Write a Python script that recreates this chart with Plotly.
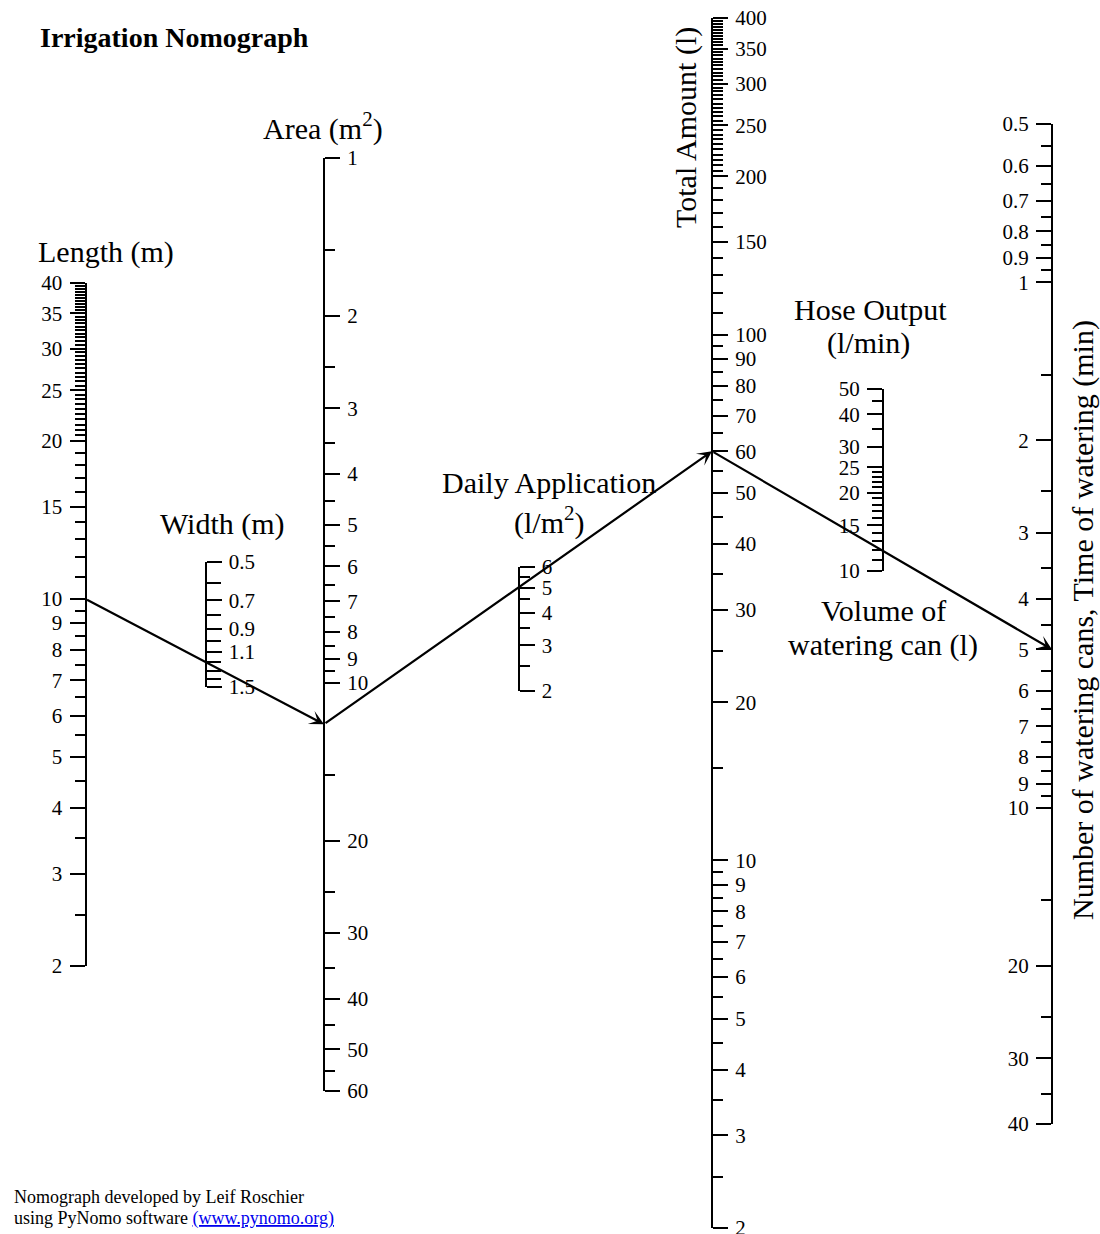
import math
import plotly.graph_objects as go

W, H = 1100, 1234

# ------------------------------------------------------------------ data
LENGTH_LABELED = [2, 3, 4, 5, 6, 7, 8, 9, 10, 15, 20, 25, 30, 35, 40]
LENGTH_MINOR = [2.5, 3.5, 4.5, 5.5, 6.5, 7.5, 8.5, 9.5, 11, 12, 13, 14, 16, 17, 18, 19,
                20.5, 21, 21.5, 22, 22.5, 23, 23.5, 24, 24.5, 25.5, 26, 26.5, 27, 27.5,
                28, 28.5, 29, 29.5, 30.5, 31, 31.5, 32, 32.5, 33, 33.5, 34, 34.5, 35.5,
                36, 36.5, 37, 37.5, 38, 38.5, 39, 39.5]
WIDTH_LABELED = [0.5, 0.7, 0.9, 1.1, 1.5]
WIDTH_MINOR = [0.6, 0.8, 1.0, 1.2, 1.3, 1.4]
AREA_LABELED = [1, 2, 3, 4, 5, 6, 7, 8, 9, 10, 20, 30, 40, 50, 60]
AREA_MINOR = [1.5, 2.5, 3.5, 4.5, 5.5, 6.5, 7.5, 8.5, 9.5, 15, 25, 35, 45, 55]
DAILY_LABELED = [2, 3, 4, 5, 6]
DAILY_MINOR = [2.5, 3.5, 4.5, 5.5]
TOTAL_LABELED = [2, 3, 4, 5, 6, 7, 8, 9, 10, 20, 30, 40, 50, 60, 70, 80, 90, 100,
                 150, 200, 250, 300, 350, 400]
TOTAL_MINOR = [2.5, 3.5, 4.5, 5.5, 6.5, 7.5, 8.5, 9.5, 15, 25, 35, 45, 55, 65, 75, 85, 95,
               110, 120, 130, 140, 160, 170, 180, 190,
               205, 210, 215, 220, 225, 230, 235, 240, 245,
               255, 260, 265, 270, 275, 280, 285, 290, 295,
               305, 310, 315, 320, 325, 330, 335, 340, 345,
               355, 360, 365, 370, 375, 380, 385, 390, 395]
HOSE_LABELED = [10, 15, 20, 25, 30, 40, 50]
HOSE_MINOR = [11, 12, 13, 14, 16, 17, 18, 19, 21, 22, 23, 24, 35, 45]
CANS_LABELED = [0.5, 0.6, 0.7, 0.8, 0.9, 1, 2, 3, 4, 5, 6, 7, 8, 9, 10, 20, 30, 40]
CANS_MINOR = [0.55, 0.65, 0.75, 0.85, 0.95, 1.5, 2.5, 3.5, 4.5, 5.5, 6.5, 7.5, 8.5, 9.5,
              15, 25, 35]

# worked example drawn on the nomograph
EX_LENGTH = 10
EX_WIDTH = 1.2
EX_AREA = 12
EX_DAILY = 5
EX_TOTAL = 60
EX_HOSE = 12
EX_CANS = 5

# ------------------------------------------------------------------ geometry (pixels)
SCALES = {
    'length': dict(x=85.5, top=283, bottom=966, vtop=40, vbot=2, side='left',
                   major=LENGTH_LABELED, minor=LENGTH_MINOR, mlen=10),
    'width': dict(x=205.5, top=562, bottom=687, vtop=0.5, vbot=1.5, side='right',
                  major=WIDTH_LABELED, minor=WIDTH_MINOR, mlen=14),
    'area': dict(x=324, top=158, bottom=1091, vtop=1, vbot=60, side='right',
                 major=AREA_LABELED, minor=AREA_MINOR, mlen=10),
    'daily': dict(x=518.5, top=567, bottom=691, vtop=6, vbot=2, side='right',
                  major=DAILY_LABELED, minor=DAILY_MINOR, mlen=10),
    'total': dict(x=712, top=18, bottom=1228, vtop=400, vbot=2, side='right',
                  major=TOTAL_LABELED, minor=TOTAL_MINOR, mlen=10),
    'hose': dict(x=883, top=389, bottom=571, vtop=50, vbot=10, side='left',
                 major=HOSE_LABELED, minor=HOSE_MINOR, mlen=10),
    'cans': dict(x=1052, top=124, bottom=1124, vtop=0.5, vbot=40, side='left',
                 major=CANS_LABELED, minor=CANS_MINOR, mlen=10),
}

FONT = 'Liberation Serif'


def fmt(v):
    return f"{v:g}"


def to_px(s, v):
    """pixel y of value v on scale s (same mapping as the log axis built below)"""
    lt, lb = math.log10(s['vtop']), math.log10(s['vbot'])
    return s['top'] + (lt - math.log10(v)) / (lt - lb) * (s['bottom'] - s['top'])


fig = go.Figure()
layout_axes = {}

for i, (name, s) in enumerate(SCALES.items(), start=2):
    yname = f'yaxis{i}'
    fig.add_trace(go.Scatter(
        x=[s['x'], s['x']], y=[s['vbot'], s['vtop']], xaxis='x', yaxis=f'y{i}',
        mode='markers', marker=dict(opacity=0, size=1), hoverinfo='skip',
        showlegend=False))
    layout_axes[yname] = dict(
        type='log',
        domain=[1 - s['bottom'] / H, 1 - s['top'] / H],
        range=[math.log10(s['vbot']), math.log10(s['vtop'])],
        autorange=False, automargin=False,
        anchor='free', position=s['x'] / W, side=s['side'],
        showline=True, linecolor='black', linewidth=2,
        ticks='outside', ticklen=15, tickwidth=2, tickcolor='black',
        tickmode='array', tickvals=s['major'], ticktext=[fmt(v) for v in s['major']],
        minor=dict(tickmode='array', tickvals=s['minor'], ticks='outside',
                   ticklen=s['mlen'], tickwidth=2, tickcolor='black', showgrid=False),
        showgrid=False, zeroline=False,
        tickfont=dict(family=FONT, size=21, color='black'),
        ticklabelstandoff=3, ticklabeloverflow='allow', fixedrange=True,
    )

# ------------------------------------------------------------------ example arrows
S = SCALES
pts = [
    (S['length']['x'], to_px(S['length'], EX_LENGTH)),
    (S['area']['x'], to_px(S['area'], EX_AREA)),
    (S['total']['x'], to_px(S['total'], EX_TOTAL)),
    (S['cans']['x'], to_px(S['cans'], EX_CANS)),
]
annotations = []
for (x0, y0), (x1, y1) in zip(pts[:-1], pts[1:]):
    annotations.append(dict(
        x=x1, y=y1, ax=x0, ay=y0, xref='x', yref='y', axref='x', ayref='y',
        text='', showarrow=True, arrowhead=3, arrowsize=1.1, arrowwidth=2.2,
        arrowcolor='black', standoff=0, startstandoff=0))


def label(text, x, y, size=30, xanchor='center', angle=0, color='black', family=FONT):
    annotations.append(dict(
        text=text, x=x / W, y=1 - y / H, xref='paper', yref='paper',
        xanchor=xanchor, yanchor='middle', showarrow=False, textangle=angle,
        font=dict(family=family, size=size, color=color)))


label('<b>Irrigation Nomograph</b>', 38, 37, size=28, xanchor='left')
label('Length (m)', 106, 252)
label('Width (m)', 222, 524)
label('Area (m<sup>2</sup>)', 323, 127)
label('Daily Application', 549, 482)
label('(l/m<sup>2</sup>)', 549, 520)
label('Total Amount (l)', 686, 128, angle=-90)
label('Hose Output', 870, 310)
label('(l/min)', 868, 343)
label('Volume of', 883, 611)
label('watering can (l)', 883, 645)
label('Number of watering cans, Time of watering (min)', 1083, 620, angle=-90)
label('Nomograph developed by Leif Roschier', 12, 1197, size=18, xanchor='left')
label('using PyNomo software <span style="color:#0000ee"><u>(www.pynomo.org)</u></span>',
      12, 1218, size=18, xanchor='left')

fig.update_layout(
    template='none',
    width=W, height=H, margin=dict(l=0, r=0, t=0, b=0, autoexpand=False),
    paper_bgcolor='white', plot_bgcolor='rgba(0,0,0,0)',
    xaxis=dict(range=[0, W], domain=[0, 1], visible=False, fixedrange=True,
               automargin=False),
    yaxis=dict(range=[H, 0], domain=[0, 1], visible=False, fixedrange=True,
               automargin=False),
    showlegend=False,
    annotations=annotations,
    **layout_axes,
)

fig.write_html('out.html')
